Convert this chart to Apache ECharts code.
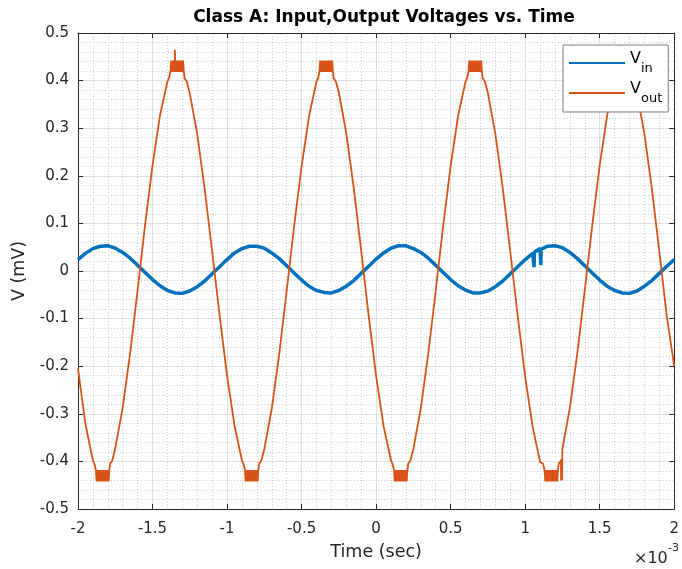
<!DOCTYPE html>
<html><head><meta charset="utf-8">
<script src="https://cdn.jsdelivr.net/npm/echarts@6/dist/echarts.min.js"></script>
<style>html,body{margin:0;padding:0;background:#fff}#c{width:682px;height:569px}</style>
</head><body><div id="c"></div>
<script>
// ---- data (time in ms, voltage in mV) ----
const timeMs = [
 -2.00,-1.95,-1.90,-1.85,-1.80,-1.75,-1.70,-1.65,-1.60,-1.55,-1.50,-1.45,-1.40,-1.35,-1.30,-1.25,-1.20,-1.15,-1.10,-1.05,
 -1.00,-0.95,-0.90,-0.85,-0.80,-0.75,-0.70,-0.65,-0.60,-0.55,-0.50,-0.45,-0.40,-0.35,-0.30,-0.25,-0.20,-0.15,-0.10,-0.05,
  0.00, 0.05, 0.10, 0.15, 0.20, 0.25, 0.30, 0.35, 0.40, 0.45, 0.50, 0.55, 0.60, 0.65, 0.70, 0.75, 0.80, 0.85, 0.90, 0.95,
  1.00, 1.05, 1.10, 1.15, 1.20, 1.25, 1.30, 1.35, 1.40, 1.45, 1.50, 1.55, 1.60, 1.65, 1.70, 1.75, 1.80, 1.85, 1.90, 1.95,
  2.00];
const vInBase = [
  0.024, 0.037, 0.047, 0.052, 0.053, 0.048, 0.039, 0.027, 0.012,-0.003,-0.018,-0.031,-0.041,-0.046,-0.047,-0.042,-0.033,-0.021,-0.006, 0.009,
  0.024, 0.038, 0.047, 0.052, 0.052, 0.048, 0.038, 0.026, 0.011,-0.004,-0.019,-0.032,-0.041,-0.045,-0.046,-0.041,-0.032,-0.020,-0.005, 0.010,
  0.025, 0.038, 0.048, 0.053, 0.053, 0.047, 0.039, 0.027, 0.012,-0.003,-0.018,-0.031,-0.040,-0.046,-0.046,-0.042,-0.033,-0.021,-0.006, 0.009,
  0.024, 0.037, 0.047, 0.052, 0.053, 0.049, 0.039, 0.026, 0.011,-0.004,-0.019,-0.032,-0.041,-0.046,-0.047,-0.042,-0.032,-0.020,-0.005, 0.010,
  0.024];
const vOutBase = [
 -0.205,-0.322,-0.398,-0.433,-0.425,-0.372,-0.287,-0.172,-0.040, 0.097, 0.222, 0.327, 0.399, 0.433, 0.425, 0.373, 0.287, 0.172, 0.041,-0.093,
 -0.220,-0.325,-0.399,-0.433,-0.425,-0.374,-0.289,-0.174,-0.042, 0.094, 0.220, 0.325, 0.398, 0.433, 0.426, 0.375, 0.289, 0.174, 0.043,-0.094,
 -0.221,-0.326,-0.400,-0.433,-0.425,-0.374,-0.288,-0.173,-0.041, 0.095, 0.221, 0.326, 0.399, 0.433, 0.425, 0.374, 0.288, 0.173, 0.041,-0.095,
 -0.222,-0.327,-0.401,-0.433,-0.425,-0.373,-0.287,-0.172,-0.040, 0.096, 0.222, 0.327, 0.399, 0.433, 0.425, 0.374, 0.288, 0.173, 0.041,-0.095,
 -0.200];
// flattened (quantised) tops/bottoms of Vout
const extremaT    = [-1.835,-1.335,-0.835,-0.335, 0.165, 0.665, 1.175, 1.665];
const extremaSign = [-1, 1, -1, 1, -1, 1, -1, 1];
const blockOffsets = [-0.065,-0.055,-0.050,-0.045,-0.040,-0.035,-0.030,-0.025,-0.020,-0.015,-0.010,-0.005,0,0.005,0.010,0.015,0.020,0.025,0.030,0.035,0.040,0.045,0.050,0.055,0.065];
const blockLevels  = [ 0.398, 0.405, 0.405, 0.418, 0.442, 0.418, 0.442, 0.418, 0.442, 0.418, 0.442, 0.418,0.442,0.418,0.442,0.418,0.442,0.418,0.442,0.418,0.442,0.418,0.405,0.405,0.398];
const vOutSpikeT = [-1.353,-1.350,-1.347, 1.241, 1.244, 1.247];
const vOutSpikeV = [ 0.430, 0.465, 0.430,-0.440,-0.395,-0.440];
const vInSpikeT  = [1.058, 1.060, 1.062, 1.103, 1.105, 1.107];
const vInSpikeV  = [0.040, 0.008, 0.040, 0.046, 0.012, 0.046];
const xTicks = [-2,-1.5,-1,-0.5,0,0.5,1,1.5,2];
const yTicks = [-0.5,-0.4,-0.3,-0.2,-0.1,0,0.1,0.2,0.3,0.4,0.5];

// ---- assemble series ----
const vIn = timeMs.map((t,i)=>[t, vInBase[i]]);
vInSpikeT.forEach((t,i)=>vIn.push([t, vInSpikeV[i]]));
vIn.sort((a,b)=>a[0]-b[0]);

const vOut = [];
timeMs.forEach((t,i)=>{ if (extremaT.every(c=>Math.abs(t-c)>0.067)) vOut.push([t, vOutBase[i]]); });
extremaT.forEach((c,k)=>blockOffsets.forEach((o,m)=>vOut.push([+(c+o).toFixed(4), extremaSign[k]*blockLevels[m]])));
vOutSpikeT.forEach((t,i)=>vOut.push([t, vOutSpikeV[i]]));
vOut.sort((a,b)=>a[0]-b[0]);

const FONT = 'DejaVu Sans';
const TXT = '#262626';
const fmt = v => { const r = Math.round(v*10)/10; return r === 0 ? '0' : String(r); };
const xMin = xTicks[0], xMax = xTicks[xTicks.length-1];
const yMin = yTicks[0], yMax = yTicks[yTicks.length-1];

const baseX = {
  type:'value', min:xMin, max:xMax, interval:0.5,
  axisLine:{show:true, onZero:false, lineStyle:{color:TXT, width:1}},
  axisTick:{show:true, inside:true, length:5, lineStyle:{color:TXT}},
};
const baseY = {
  type:'value', min:yMin, max:yMax, interval:0.1,
  axisLine:{show:true, onZero:false, lineStyle:{color:TXT, width:1}},
  axisTick:{show:true, inside:true, length:5, lineStyle:{color:TXT}},
};

const chart = echarts.init(document.getElementById('c'), null, {renderer:'canvas'});
chart.setOption({
  animation:false,
  backgroundColor:'#fff',
  title:{ text:'Class A: Input,Output Voltages vs. Time', left:379, top:4, textAlign:'center',
    textStyle:{fontFamily:FONT, fontSize:17, fontWeight:'bold', color:'#000'} },
  grid:{ left:78, right:1, top:33, bottom:60, containLabel:false },
  xAxis:[
    Object.assign({}, baseX, { position:'bottom',
      name:'Time (sec)', nameLocation:'middle', nameGap:34,
      nameTextStyle:{fontFamily:FONT, fontSize:17.5, color:TXT},
      axisLabel:{show:true, margin:13, fontFamily:FONT, fontSize:15, color:TXT, formatter:fmt},
      splitLine:{show:true, lineStyle:{color:'#e0e0e0', width:1}},
      minorTick:{show:false, splitNumber:5},
      minorSplitLine:{show:true, lineStyle:{color:'#cdcdcd', width:1, type:[1,2]}} }),
    Object.assign({}, baseX, { position:'top', axisLabel:{show:false}, splitLine:{show:false} })
  ],
  yAxis:[
    Object.assign({}, baseY, { position:'left',
      name:'V (mV)', nameLocation:'middle', nameGap:46,
      nameTextStyle:{fontFamily:FONT, fontSize:17.5, color:TXT},
      axisLabel:{show:true, margin:9, fontFamily:FONT, fontSize:15, color:TXT, formatter:fmt},
      splitLine:{show:true, lineStyle:{color:'#e0e0e0', width:1}},
      minorTick:{show:false, splitNumber:5},
      minorSplitLine:{show:true, lineStyle:{color:'#cdcdcd', width:1, type:[1,2]}} }),
    Object.assign({}, baseY, { position:'right', axisLabel:{show:false}, splitLine:{show:false} })
  ],
  legend:{
    data:['Vin','Vout'], orient:'vertical', left:563, top:45,
    backgroundColor:'#fff', borderColor:'#7a7a7a', borderWidth:1, padding:[6,6,7,6],
    itemWidth:56, itemHeight:2, itemGap:6, itemTextGap:4, icon:'rect',
    formatter: n => n === 'Vin' ? '{v|V}{s|in}' : '{v|V}{s|out}',
    textStyle:{ color:'#000', fontFamily:FONT,
      rich:{ v:{fontSize:16, fontFamily:FONT, color:'#000', verticalAlign:'top', padding:[0,0,8,0]},
             s:{fontSize:13, fontFamily:FONT, color:'#000', verticalAlign:'bottom'} } }
  },
  graphic:[
    { type:'text', left:634, top:551, style:{ text:'×10', font:'16px "DejaVu Sans"', fill:TXT } },
    { type:'text', left:668, top:543, style:{ text:'-3', font:'11px "DejaVu Sans"', fill:TXT } }
  ],
  series:[
    { name:'Vin', type:'line', data:vIn, showSymbol:false, symbol:'none', xAxisIndex:0, yAxisIndex:0,
      lineStyle:{color:'#0072BD', width:3.5}, itemStyle:{color:'#0072BD'}, z:2 },
    { name:'Vout', type:'line', data:vOut, showSymbol:false, symbol:'none', xAxisIndex:0, yAxisIndex:0,
      lineStyle:{color:'#D95319', width:1.8}, itemStyle:{color:'#D95319'}, z:3 }
  ]
});
</script></body></html>
